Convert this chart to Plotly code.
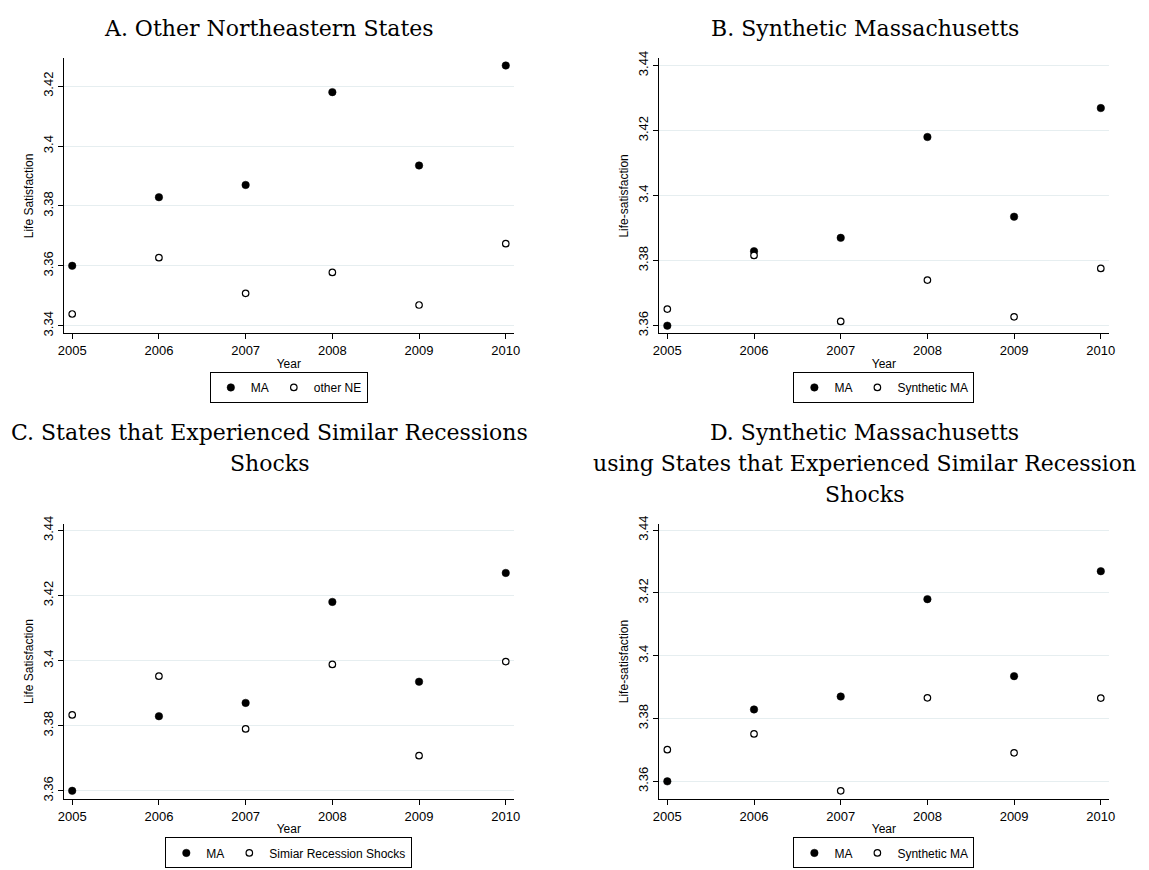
import plotly.graph_objects as go

# ---------------- data ----------------
years = [2005, 2006, 2007, 2008, 2009, 2010]
ma = [3.3600, 3.3829, 3.3870, 3.4180, 3.3935, 3.4269]
other_ne = [3.3439, 3.3627, 3.3508, 3.3578, 3.3469, 3.3674]
synthetic_ma_b = [3.3651, 3.3816, 3.3613, 3.3740, 3.3627, 3.3776]
similar_shocks = [3.3833, 3.3952, 3.3790, 3.3988, 3.3708, 3.3997]
synthetic_ma_d = [3.3701, 3.3751, 3.3570, 3.3866, 3.3691, 3.3865]

ticks_a = [3.34, 3.36, 3.38, 3.40, 3.42]
ticktext_a = ["3.34", "3.36", "3.38", "3.4", "3.42"]
ticks_bcd = [3.36, 3.38, 3.40, 3.42, 3.44]
ticktext_bcd = ["3.36", "3.38", "3.4", "3.42", "3.44"]

title_a = ["A. Other Northeastern States"]
title_b = ["B. Synthetic Massachusetts"]
title_c = ["C. States that Experienced Similar Recessions", "Shocks"]
title_d = ["D. Synthetic Massachusetts",
           "using States that Experienced Similar Recession", "Shocks"]

# ---------------- layout helpers ----------------
W, H = 1149, 870


def px_x(v):
    return v / W


def px_y(v):
    return 1 - v / H


panels = [
    dict(x=(58.4, 513.2), y=(50, 329), yr=[3.3374, 3.4293], tv=ticks_a, tt=ticktext_a,
         yt="Life Satisfaction", s2=other_ne, n2="other NE", title=title_a, tx=266,
         tb=[27.5], lt=368),
    dict(x=(659.8, 1114.5), y=(50, 329), yr=[3.3576, 3.4422], tv=ticks_bcd, tt=ticktext_bcd,
         yt="Life-satisfaction", s2=synthetic_ma_b, n2="Synthetic MA", title=title_b, tx=868,
         tb=[27.5], lt=368),
    dict(x=(58.4, 513.2), y=(522.3, 801), yr=[3.3575, 3.4419], tv=ticks_bcd, tt=ticktext_bcd,
         yt="Life Satisfaction", s2=similar_shocks, n2="Simiar Recession Shocks", title=title_c,
         tx=266, tb=[436.7, 468.5], lt=840),
    dict(x=(659.8, 1114.5), y=(522.3, 801), yr=[3.3544, 3.4419], tv=ticks_bcd, tt=ticktext_bcd,
         yt="Life-satisfaction", s2=synthetic_ma_d, n2="Synthetic MA", title=title_d, tx=868,
         tb=[436.7, 468.0, 499.5], lt=840),
]

fig = go.Figure()
annotations = []
axis_font = dict(family="Liberation Sans, Arial, sans-serif", size=13, color="black")
title_font = dict(family="Liberation Sans, Arial, sans-serif", size=12, color="black")
grid_color = "#e6eef0"

for i, p in enumerate(panels, start=1):
    sfx = "" if i == 1 else str(i)
    leg = "legend" if i == 1 else f"legend{i}"
    fig.add_trace(go.Scatter(
        x=years, y=ma, mode="markers", name="MA", legend=leg,
        xaxis=f"x{sfx}", yaxis=f"y{sfx}",
        marker=dict(symbol="circle", size=7.5, color="black",
                    line=dict(color="black", width=0.5)),
    ))
    fig.add_trace(go.Scatter(
        x=years, y=p["s2"], mode="markers", name=p["n2"], legend=leg,
        xaxis=f"x{sfx}", yaxis=f"y{sfx}",
        marker=dict(symbol="circle", size=6.5, color="white",
                    line=dict(color="black", width=1.2)),
    ))
    fig.layout[f"xaxis{sfx}"] = dict(
        domain=[px_x(p["x"][0]), px_x(p["x"][1])], anchor=f"y{sfx}",
        range=[2004.903, 2010.093], tickvals=years, ticktext=[str(y) for y in years],
        showgrid=False, zeroline=False, showline=True, linecolor="black", linewidth=1,
        ticks="outside", ticklen=5, tickcolor="black", tickwidth=1,
        tickfont=axis_font, title=dict(text="Year", font=title_font, standoff=2),
    )
    fig.layout[f"yaxis{sfx}"] = dict(
        domain=[px_y(p["y"][1]), px_y(p["y"][0])], anchor=f"x{sfx}",
        range=p["yr"], tickvals=p["tv"], ticktext=p["tt"], tickangle=-90,
        showgrid=True, gridcolor=grid_color, gridwidth=1, zeroline=False,
        showline=True, linecolor="black", linewidth=1,
        ticks="outside", ticklen=5, tickcolor="black", tickwidth=1,
        tickfont=axis_font, title=dict(text=p["yt"], font=title_font, standoff=4),
    )
    fig.layout[leg] = dict(
        orientation="h", x=px_x((p["x"][0] + p["x"][1]) / 2), xanchor="center",
        y=px_y(p["lt"]), yanchor="top", bordercolor="black", borderwidth=1,
        bgcolor="white", font=dict(family="Liberation Sans, Arial, sans-serif",
                                   size=12, color="black"),
        itemwidth=30, tracegroupgap=0, itemclick=False,
    )
    for line, base in zip(p["title"], p["tb"]):
        annotations.append(dict(
            text=line, x=px_x(p["tx"]), y=px_y(base - 7.6), xref="paper", yref="paper",
            xanchor="center", yanchor="middle", showarrow=False,
            font=dict(family="DejaVu Serif, serif", size=22, color="black"),
        ))

fig.update_layout(
    width=W, height=H, autosize=False,
    margin=dict(l=0, r=0, t=0, b=0),
    paper_bgcolor="white", plot_bgcolor="white",
    annotations=annotations, showlegend=True,
)

fig.write_html("out.html")
